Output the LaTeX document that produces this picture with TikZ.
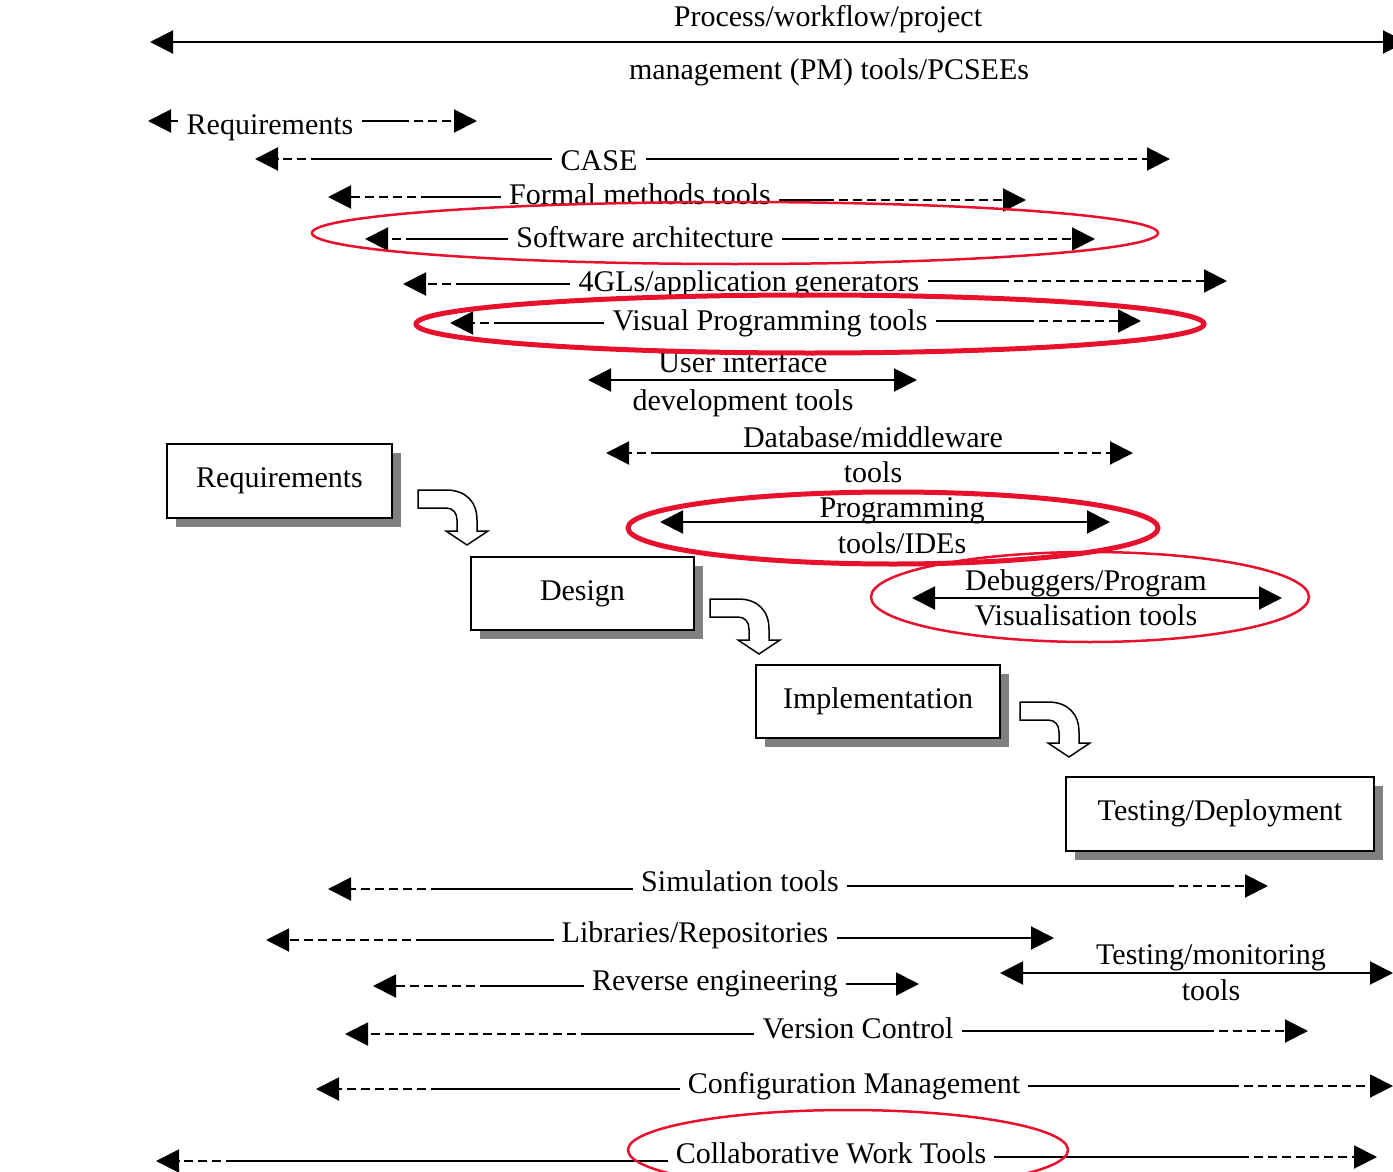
\documentclass[tikz,border=0pt]{standalone}
\usepackage{fontspec}
\setmainfont{Liberation Serif}
\usetikzlibrary{arrows.meta,shadows}

\definecolor{ringred}{RGB}{232,17,45}
\definecolor{shade}{RGB}{128,128,128}

\tikzset{
  lbl/.style={anchor=base, inner ysep=0pt, inner xsep=8pt, font=\fontsize{30}{32}\selectfont},
  rule/.style={line width=2pt},
  brokenline/.style={dash pattern=on 9pt off 5pt},
  arrowend/.style={-{Triangle[length=23pt,width=23pt]}},
  botharrows/.style={{Triangle[length=23pt,width=23pt]}-{Triangle[length=23pt,width=23pt]}},
  phase/.style={draw, line width=2pt, fill=white, font=\fontsize{30}{32}\selectfont,
    text height=20pt, text depth=7pt,
    drop shadow={shadow xshift=9pt, shadow yshift=-9pt, fill=shade, opacity=1}},
  thinring/.style={draw=ringred, line width=2.5pt},
  thickring/.style={draw=ringred, line width=5pt},
  bendarrow/.pic={
    \draw[line width=1.5pt, fill=white] (0,0) -- (28,0)
      .. controls (48,0) and (59,12) .. (59,30) -- (59,41) -- (70,41) -- (49,55)
      -- (28,41) -- (39,41) -- (39,30) .. controls (39,23) and (35,18) .. (28,18)
      -- (0,18) -- cycle;
  }
}

% A tool span: label, solid parts next to it, dashed ends with arrow heads.
% #1 name, #2 label position (baseline), #3 label, #4 left tip x, #5 left dash end x,
% #6 right dash start x, #7 right tip x, #8 left y, #9 right y
\newcommand\toolline[9]{%
  \node[lbl] (#1) at #2 {#3};
  \coordinate (#1-lt) at (#4,#8);
  \coordinate (#1-ld) at (#5,#8);
  \coordinate (#1-rd) at (#6,#9);
  \coordinate (#1-rt) at (#7,#9);
  \draw[rule] (#1.west |- #1-ld) -- (#1-ld);
  \draw[rule, brokenline, arrowend] (#1-ld) -- (#1-lt);
  \draw[rule] (#1.east |- #1-rd) -- (#1-rd);
  \draw[rule, brokenline, arrowend] (#1-rd) -- (#1-rt);
}

\begin{document}
\begin{tikzpicture}[x=1pt, y=-1pt]
\useasboundingbox (0,0) rectangle (1393,1172);

% process / PM tools across the whole life cycle
\node[lbl] (pm1) at (828,27) {Process/workflow/project};
\node[lbl] (pm2) at (829,80) {management (PM) tools/PCSEEs};
\coordinate (pmL) at (150,42);
\coordinate (pmR) at (1406,42);
\draw[rule, botharrows] (pmL) -- (pmR);

% upper tool spans
\toolline{rq}{(270,135)}{Requirements}{148}{171}{400}{477}{121}{121}
\toolline{cs}{(599,170)}{CASE}{255}{320}{890}{1170}{159}{159}
\toolline{fm}{(640,204)}{Formal methods tools}{328}{430}{825}{1026}{197}{200}
\toolline{sa}{(645,247)}{Software architecture}{365}{415}{810}{1095}{239}{239}
\toolline{gl}{(749,291)}{4GLs/application generators}{403}{465}{1000}{1227}{284}{281}
\toolline{vp}{(770,330)}{Visual Programming tools}{450}{503}{1025}{1141}{323}{321}

% user interface development tools
\node[lbl] (ui1) at (743,372) {User interface};
\node[lbl] (ui2) at (743,410) {development tools};
\coordinate (uiL) at (588,380);
\coordinate (uiR) at (917,380);
\draw[rule, botharrows] (uiL) -- (uiR);

% database / middleware tools
\node[lbl] (db1) at (873,447) {Database/middleware};
\node[lbl] (db2) at (873,482) {tools};
\coordinate (dbL) at (606,453);
\coordinate (dbLd) at (660,453);
\coordinate (dbRd) at (1050,453);
\coordinate (dbR) at (1133,453);
\draw[rule] (dbLd) -- (dbRd);
\draw[rule, brokenline, arrowend] (dbLd) -- (dbL);
\draw[rule, brokenline, arrowend] (dbRd) -- (dbR);

% programming tools / IDEs
\node[lbl] (pg1) at (902,517) {Programming};
\node[lbl] (pg2) at (902,553) {tools/IDEs};
\coordinate (pgL) at (660,522);
\coordinate (pgR) at (1110,522);
\draw[rule, botharrows] (pgL) -- (pgR);

% debuggers
\node[lbl] (dg1) at (1086,590) {Debuggers/Program};
\node[lbl] (dg2) at (1086,625) {Visualisation tools};
\coordinate (dgL) at (912,598);
\coordinate (dgR) at (1282,598);
\draw[rule, botharrows] (dgL) -- (dgR);

% life-cycle phases
\node[phase, minimum width=225pt, minimum height=74pt] (req) at (279.5,481) {Requirements};
\node[phase, minimum width=223pt, minimum height=73pt] (des) at (582.5,593.5) {Design};
\node[phase, minimum width=244pt, minimum height=73pt] (imp) at (878,701.5) {Implementation};
\node[phase, minimum width=308pt, minimum height=74pt] (tst) at (1220,814) {Testing/Deployment};
\pic (b1) at (418,490) {bendarrow};
\pic (b2) at (710,599) {bendarrow};
\pic (b3) at (1020,702) {bendarrow};

% lower tool spans
\toolline{sim}{(740,891)}{Simulation tools}{328}{440}{1165}{1268}{889}{886}
\toolline{lib}{(695,942)}{Libraries/Repositories}{266}{425}{1031}{1054}{940}{938}
\toolline{rev}{(715,990)}{Reverse engineering}{373}{489}{896}{919}{986}{984}
\toolline{vc}{(858,1038)}{Version Control}{345}{590}{1205}{1308}{1034}{1031}
\toolline{cm}{(854,1093)}{Configuration Management}{316}{440}{1230}{1393}{1089}{1086}
\toolline{cw}{(831,1163)}{Collaborative Work Tools}{156}{235}{1240}{1377}{1161}{1157}

% testing / monitoring tools
\node[lbl] (tm1) at (1211,964) {Testing/monitoring};
\node[lbl] (tm2) at (1211,1000) {tools};
\coordinate (tmL) at (1000,973);
\coordinate (tmR) at (1393,973);
\draw[rule, botharrows] (tmL) -- (tmR);

% highlighted groups
\draw[thinring] (735,233) ellipse [x radius=423pt, y radius=31pt];
\draw[thickring] (810,324) ellipse [x radius=394pt, y radius=29pt];
\draw[thickring] (893,528) ellipse [x radius=265pt, y radius=36pt];
\draw[thinring] (1090,597) ellipse [x radius=219pt, y radius=45pt];
\draw[thinring] (848,1150) ellipse [x radius=220pt, y radius=40pt];
\end{tikzpicture}
\end{document}
